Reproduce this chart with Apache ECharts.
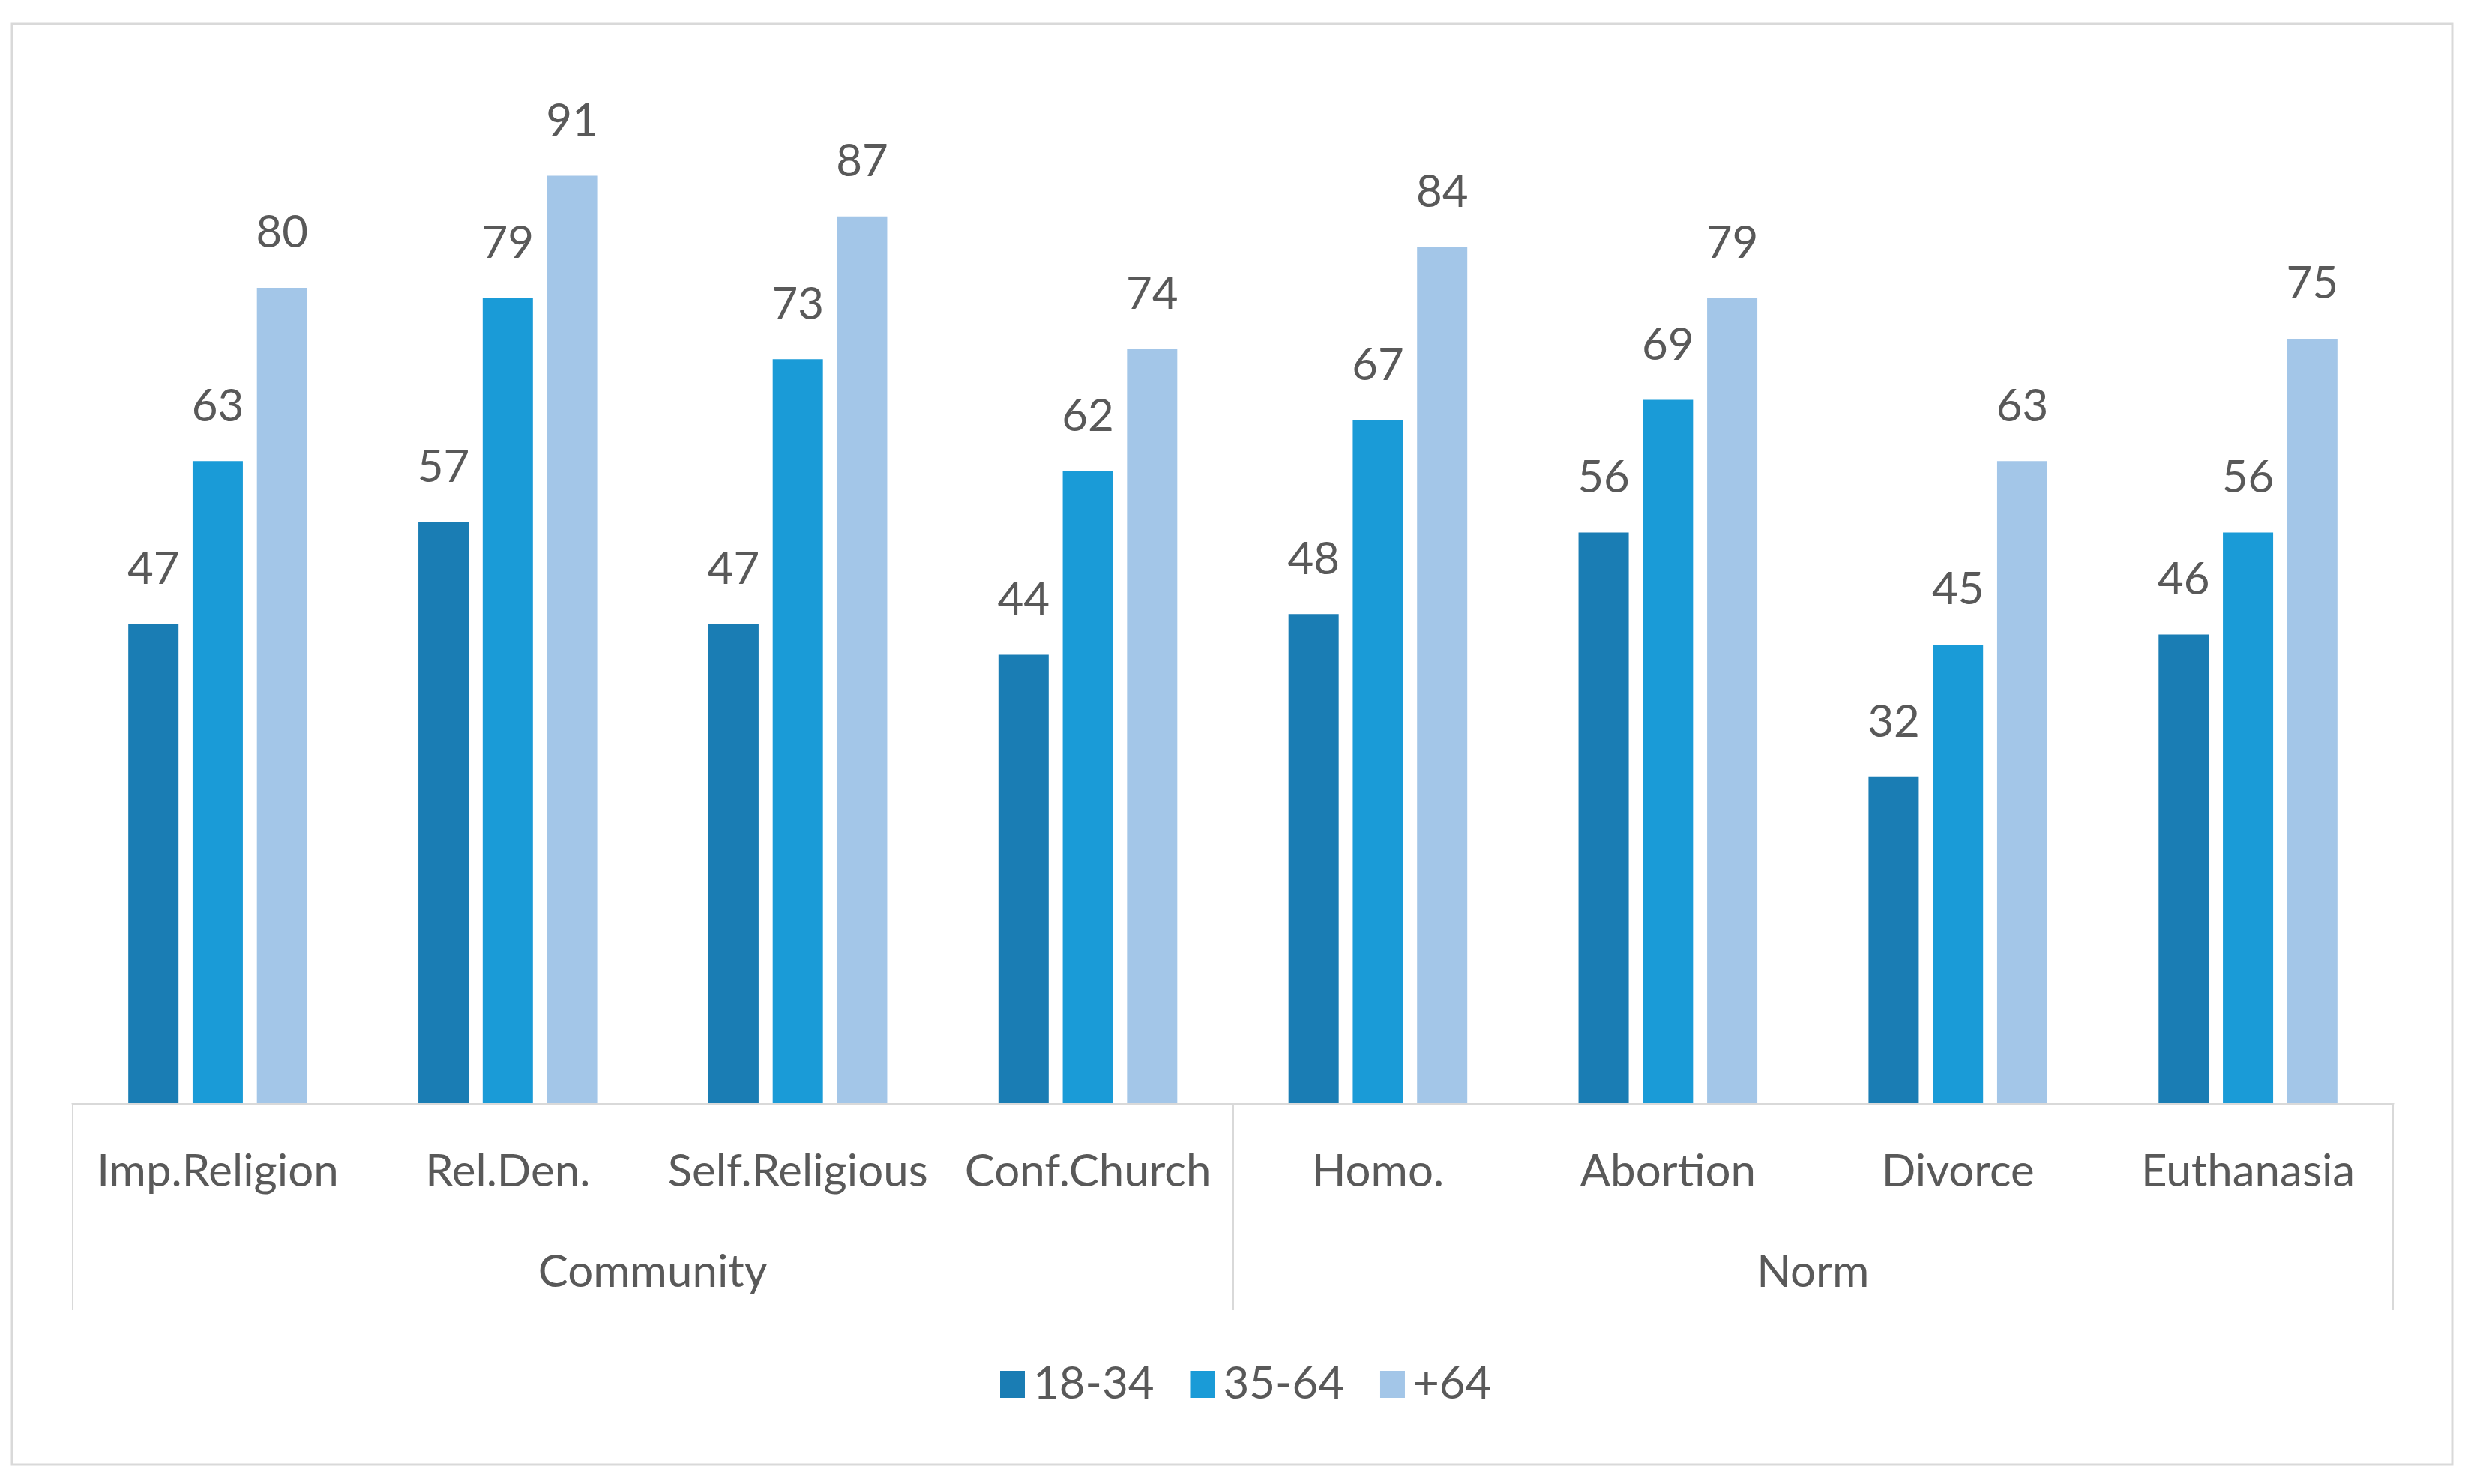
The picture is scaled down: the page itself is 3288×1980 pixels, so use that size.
<!DOCTYPE html>
<html>
<head>
<meta charset="utf-8">
<script src="https://cdn.jsdelivr.net/npm/echarts@6/dist/echarts.min.js"></script>
<style>
html,body{margin:0;padding:0;background:#fff;}
#chart{width:3288px;height:1980px;}
</style>
</head>
<body>
<div id="chart"></div>
<script>
const categories = ['Imp.Religion','Rel.Den.','Self.Religious','Conf.Church','Homo.','Abortion','Divorce','Euthanasia'];
const groups = ['Community','Norm'];
const seriesNames = ['18-34','35-64','+64'];
const age18_34 = [47,57,47,44,48,56,32,46];
const age35_64 = [63,79,73,62,67,69,45,56];
const age64plus = [80,91,87,74,84,79,63,75];
const colors = ['#1a7db4','#1a9bd7','#a3c6e8'];

const FONT = 'Lato';
const TXT = '#595959';
const chart = echarts.init(document.getElementById('chart'));
const values = [age18_34, age35_64, age64plus];

chart.setOption({
  backgroundColor: '#ffffff',
  animation: false,
  textStyle: {fontFamily: FONT},
  graphic: [{
    type: 'rect',
    shape: {x: 16, y: 32, width: 3255, height: 1922},
    style: {fill: 'none', stroke: '#d9d9d9', lineWidth: 3},
    silent: true,
    z: -1
  }],
  legend: {
    data: seriesNames,
    left: 1329,
    top: 1812,
    icon: 'rect',
    itemWidth: 33,
    itemHeight: 36,
    itemGap: 48,
    textStyle: {fontFamily: FONT, fontSize: 60, color: TXT, padding: [0, 0, 0, 6]}
  },
  grid: {left: 97, right: 96, top: 112, bottom: 508, containLabel: false},
  xAxis: [{
    type: 'category',
    data: categories,
    position: 'bottom',
    axisLine: {show: true, lineStyle: {color: '#d9d9d9', width: 3}},
    axisTick: {show: false},
    axisLabel: {interval: 0, fontFamily: FONT, fontSize: 60, color: TXT, margin: 62}
  }, {
    type: 'category',
    data: groups,
    position: 'bottom',
    axisLine: {show: false},
    axisTick: {show: true, length: 276, interval: 0, lineStyle: {color: '#d9d9d9', width: 2}},
    axisLabel: {interval: 0, fontFamily: FONT, fontSize: 60, color: TXT, margin: 196}
  }],
  yAxis: {type: 'value', min: 0, max: 100, show: false, splitLine: {show: false}},
  series: seriesNames.map((name, i) => ({
    name: name,
    type: 'bar',
    xAxisIndex: 0,
    data: values[i],
    barWidth: 67,
    barGap: '28%',
    itemStyle: {color: colors[i]},
    label: {show: true, position: 'top', distance: 43, fontFamily: FONT, fontSize: 60, color: TXT}
  }))
});
</script>
</body>
</html>
